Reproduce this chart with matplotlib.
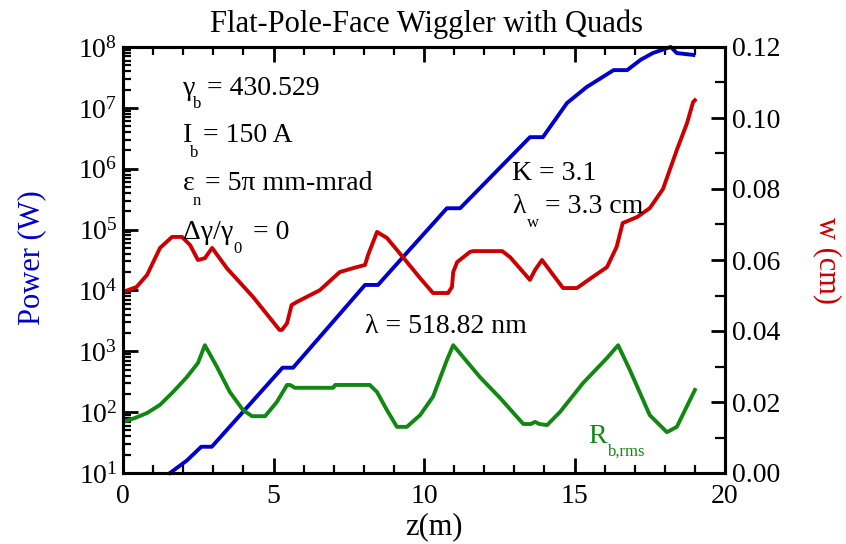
import numpy as np
import matplotlib
matplotlib.use('Agg')
import matplotlib.pyplot as plt
from matplotlib.ticker import MultipleLocator, FixedLocator, NullFormatter, FormatStrFormatter, LogFormatterMathtext

plt.rcParams['font.family'] = ['Liberation Serif', 'DejaVu Serif']
plt.rcParams['mathtext.fontset'] = 'custom'
plt.rcParams['mathtext.rm'] = 'Liberation Serif'
plt.rcParams['mathtext.it'] = 'Liberation Serif:italic'

# ---------------- data ----------------
power_z = [1.56, 2.12, 2.6, 2.95, 5.3, 5.65, 8.04, 8.47, 10.76, 11.2, 13.52, 13.95,
           14.75, 15.4, 16.3, 16.75, 17.2, 17.6, 18.07, 18.2, 18.4, 18.95]
power_W = [10, 16, 27, 27, 537, 537, 1.23e4, 1.23e4, 2.24e5, 2.24e5, 3.3e6, 3.3e6,
           1.2e7, 2.19e7, 4.17e7, 4.17e7, 6.17e7, 7.94e7, 9.55e7, 1.0e8, 7.94e7, 7.41e7]

w_z = [0, 0.45, 0.8, 1.23, 1.63, 1.96, 2.23, 2.49, 2.72, 2.96, 3.45, 4.32, 5.2, 5.28,
       5.45, 5.6, 5.78, 6.54, 7.2, 7.64, 8.04, 8.14, 8.44, 8.77, 9.3, 9.87, 10.3, 10.8,
       10.93, 10.97, 11.1, 11.53, 11.63, 12.6, 12.86, 13.52, 13.69, 13.92, 14.29, 14.62,
       15.08, 15.6, 16.08, 16.4, 16.6, 17.08, 17.5, 17.94, 18.4, 18.74, 18.94, 19.0]
w_cm = [0.051, 0.0524, 0.0558, 0.0634, 0.0665, 0.0665, 0.0642, 0.060, 0.0605, 0.0634,
        0.0577, 0.0496, 0.0403, 0.0403, 0.0422, 0.0473, 0.0482, 0.0515, 0.0566, 0.0577,
        0.0586, 0.0614, 0.0679, 0.0662, 0.0608, 0.0549, 0.0507, 0.0507, 0.0524, 0.0566,
        0.0594, 0.0623, 0.0625, 0.0625, 0.0608, 0.0544, 0.0572, 0.060, 0.0558, 0.0521,
        0.0521, 0.0552, 0.058, 0.0637, 0.0704, 0.0721, 0.0746, 0.080, 0.091, 0.0986,
        0.1045, 0.105]

r_z = [0, 0.4, 0.8, 1.23, 1.66, 2.12, 2.49, 2.72, 3.12, 3.55, 3.99, 4.29, 4.72, 5.11,
       5.45, 5.55, 5.71, 6.98, 7.05, 8.2, 8.44, 8.77, 9.1, 9.43, 9.87, 10.3, 10.76,
       10.97, 11.86, 12.53, 13.3, 13.55, 13.69, 13.83, 14.09, 14.52, 15.28, 16.08,
       16.45, 16.84, 17.5, 18.07, 18.4, 19.0]
r_cm = [0.0144, 0.0155, 0.0169, 0.0192, 0.0228, 0.027, 0.031, 0.036, 0.0299, 0.0228,
        0.0177, 0.016, 0.016, 0.020, 0.0248, 0.0248, 0.024, 0.024, 0.0248, 0.0248,
        0.0228, 0.0177, 0.013, 0.013, 0.0163, 0.0215, 0.0318, 0.036, 0.027, 0.0211,
        0.0138, 0.0138, 0.0144, 0.0138, 0.0135, 0.0172, 0.0253, 0.0324, 0.036, 0.029,
        0.0163, 0.0115, 0.013, 0.0234]

blue = '#0000cc'
red = '#cc0000'
green = '#118811'

W, H = 846, 544
fig = plt.figure(figsize=(W / 100, H / 100), dpi=100)
ax = fig.add_axes([123 / W, 1 - 473 / H, (725 - 123) / W, (473 - 47) / H])
ax2 = ax.twinx()

ax.plot(power_z, power_W, color=blue, lw=2.8, zorder=3, clip_on=False)
ax2.plot(w_z, w_cm, color=red, lw=2.8)
ax2.plot(r_z, r_cm, color=green, lw=2.8)

ax.set_yscale('log')
ax.set_xlim(0, 20)
ax.set_ylim(10, 1e8)
ax2.set_ylim(0, 0.12)

ax.xaxis.set_major_locator(MultipleLocator(5))
ax.xaxis.set_minor_locator(MultipleLocator(1))
decades = [10.0 ** k for k in range(1, 9)]
minors = [m * 10.0 ** k for k in range(1, 8) for m in range(2, 10)]
ax.yaxis.set_major_locator(FixedLocator(decades))
ax.yaxis.set_major_formatter(LogFormatterMathtext())
ax.yaxis.set_minor_locator(FixedLocator(minors))
ax.yaxis.set_minor_formatter(NullFormatter())
ax2.yaxis.set_major_locator(MultipleLocator(0.02))
ax2.yaxis.set_minor_locator(MultipleLocator(0.01))
ax2.yaxis.set_major_formatter(FormatStrFormatter('%.2f'))

for a in (ax, ax2):
    for s in a.spines.values():
        s.set_linewidth(2.2)

ax.tick_params(axis='both', which='major', direction='in', length=11, width=2,
               labelsize=20, top=True, right=False)
ax.tick_params(axis='both', which='minor', direction='in', length=6, width=1.6,
               top=True, right=False)
ax.tick_params(axis='x', which='major', pad=8)
ax.tick_params(axis='y', which='major', pad=4)
ax2.tick_params(axis='y', which='major', direction='in', length=10, width=2,
                labelsize=20, pad=5)
ax2.tick_params(axis='y', which='minor', direction='in', length=7, width=1.6)


def ftext(x, y, s, size=20, color='k', **kw):
    fig.text(x / W, 1 - y / H, s, fontsize=size, color=color,
             va='baseline', ha='left', **kw)


ftext(183, 95, 'γ'); ftext(193, 108, 'b', 12); ftext(207, 95, '= 430.529')
ftext(183, 142, 'I'); ftext(190, 157, 'b', 12); ftext(203, 142, '= 150 A')
ftext(183, 190, 'ε'); ftext(193, 205, 'n', 12); ftext(205, 190, '= 5π mm-mrad')
ftext(183, 239, 'Δγ/γ'); ftext(233, 253, '0', 12); ftext(253, 239, '= 0')
ftext(512, 180, 'K = 3.1')
ftext(512, 213, 'λ'); ftext(527, 227, 'w', 12); ftext(545, 213, '= 3.3 cm')
ftext(365, 333, 'λ = 518.82 nm')
ftext(588, 443, 'R', color=green); ftext(608, 456, 'b,rms', 12, green)

fig.text(426 / W, 1 - 32 / H, 'Flat-Pole-Face Wiggler with Quads', ha='center',
         va='baseline', fontsize=22)
fig.text(434 / W, 1 - 527 / H, 'z(m)', ha='center', va='center', fontsize=22)
fig.text(32 / W, 1 - 258 / H, 'Power (W)', rotation=90, ha='center', va='center',
         fontsize=22, color=blue)
fig.text(827 / W, 1 - 260 / H, 'w (cm)', rotation=270, ha='center', va='center',
         fontsize=22, color=red)

fig.savefig('out.png', dpi=100)
